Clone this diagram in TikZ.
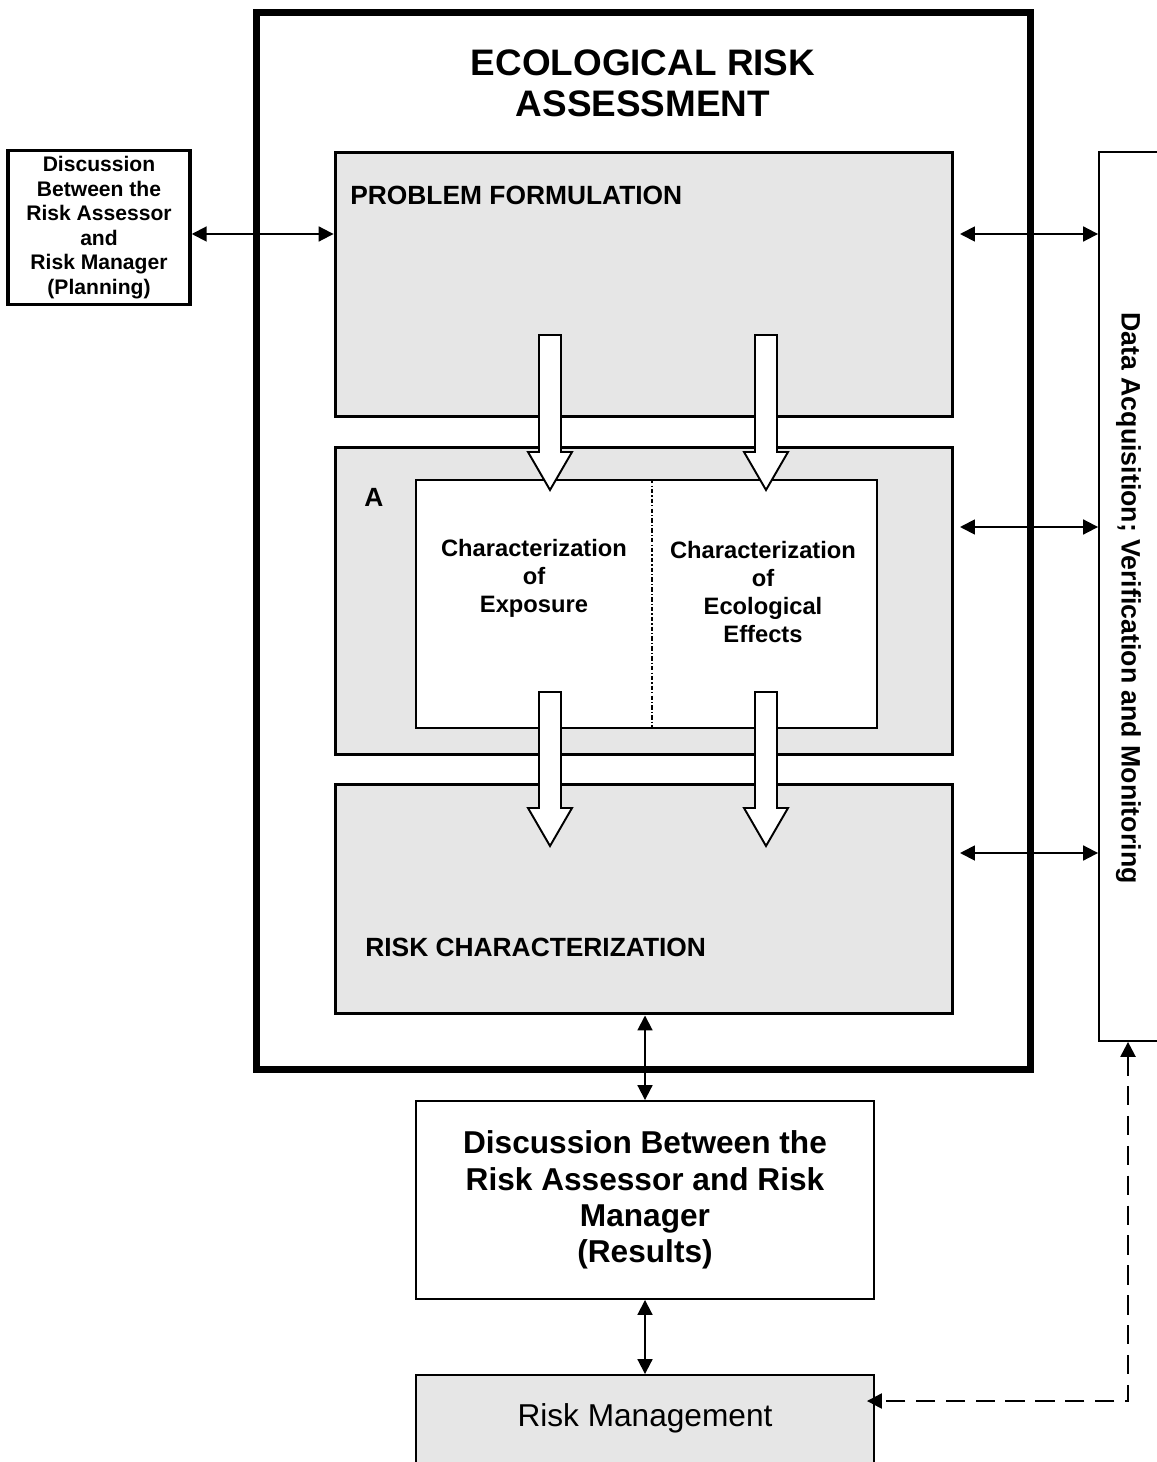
\documentclass[tikz,border=0pt]{standalone}
\usepackage{fontspec}
\setmainfont{Liberation Sans}
\usetikzlibrary{arrows.meta}
\definecolor{boxgray}{RGB}{230,230,230}

\begin{document}
\begin{tikzpicture}[x=0.02cm,y=-0.02cm,
  stage/.style={draw,line width=1.7pt,fill=boxgray,minimum width=12.36cm,inner sep=0pt},
  plainbox/.style={draw,fill=white,line width=1.1pt,inner sep=0pt},
  stagelabel/.style={font=\bfseries\fontsize{15}{17}\selectfont,inner sep=0pt},
  dbl/.style={{Triangle[length=8.5pt,width=8.5pt]}-{Triangle[length=8.5pt,width=8.5pt]},line width=1.1pt},
  blockarrow/.style={draw,fill=white,line width=1.1pt,line join=miter}]
\useasboundingbox (0,0) rectangle (1156,1462);

\node[draw,line width=4pt,minimum width=15.5cm,minimum height=21.16cm,inner sep=0pt] (era) at (643.5,541) {};
\node[font=\bfseries\fontsize{21}{23.5}\selectfont,align=center] (title) at (643,83) {ECOLOGICAL RISK\\ASSESSMENT};

\node[stage,minimum height=5.3cm] (pf) at (644,284.5) {};
\node[stage,minimum height=6.16cm] (an) at (644,601) {};
\node[stage,minimum height=4.6cm] (rc) at (644,899) {};
\node[plainbox,minimum width=9.22cm,minimum height=4.96cm] (inner) at (646.5,604) {};
\coordinate (split) at (652,0);
\draw[line width=0.7pt,dash pattern=on 2.5pt off 1.2pt on 0.7pt off 1.2pt] (inner.north -| split) -- (inner.south -| split);

\node[stagelabel,anchor=west] (pflabel) at (350,195) {PROBLEM FORMULATION};
\node[stagelabel] (alabel) at (374,497) {A};
\node[stagelabel,anchor=west] (rclabel) at (365,947) {RISK CHARACTERIZATION};
\node[font=\bfseries\fontsize{13.5}{15.9}\selectfont,align=center] (exposure) at (534,578) {Characterization\\of\\Exposure};
\node[font=\bfseries\fontsize{13.5}{15.9}\selectfont,align=center] (effects) at (763,592) {Characterization\\of\\Ecological\\Effects};

\foreach \ax/\ay/\ah/\at in {550/335/452/490, 766/335/452/490, 550/692/808/846, 766/692/808/846}
  \draw[blockarrow] (\ax-11,\ay) -- (\ax-11,\ah) -- (\ax-22,\ah) -- (\ax,\at) -- (\ax+22,\ah) -- (\ax+11,\ah) -- (\ax+11,\ay) -- cycle;

\node[draw,line width=2pt,fill=white,minimum width=3.64cm,minimum height=3.06cm,align=center,font=\bfseries\fontsize{12}{14}\selectfont] (plan) at (99,227.5) {Discussion\\Between the\\Risk Assessor\\and\\Risk Manager\\(Planning)};

\node[plainbox,minimum width=9.16cm,minimum height=3.96cm,align=center,font=\bfseries\fontsize{18}{20.6}\selectfont] (results) at (645,1200) {Discussion Between the\\Risk Assessor and Risk\\Manager\\(Results)};
\node[plainbox,fill=boxgray,minimum width=9.16cm,minimum height=2.3cm] (rm) at (645,1432.5) {};
\node[font=\fontsize{18}{20.6}\selectfont] (rmlabel) at (645,1418) {Risk Management};

\node[draw,line width=1.1pt,minimum width=2.42cm,minimum height=17.78cm,inner sep=0pt] (daq) at (1159.5,596.5) {};
\node[rotate=-90,font=\bfseries\fontsize{15.2}{17}\selectfont] (daqlabel) at (1128.5,598) {Data Acquisition; Verification and Monitoring};

\coordinate (r1) at (960,234);
\coordinate (r2) at (960,527);
\coordinate (r3) at (960,853);
\coordinate (dq) at (1128,1401);
\draw[dbl] (plan.east |- r1) -- (pf.west |- r1);
\draw[dbl] (r1) -- (r1 -| daq.west);
\draw[dbl] (r2) -- (r2 -| daq.west);
\draw[dbl] (r3) -- (r3 -| daq.west);
\draw[dbl] (rc.south -| results.north) -- (results.north);
\draw[dbl] (results.south) -- (rm.north);
\draw[dbl,line width=1.3pt,dash pattern=on 11pt off 6pt] (daq.south -| dq) -- (dq) -- ([xshift=-0.16cm]rm.east |- dq);
\end{tikzpicture}
\end{document}
